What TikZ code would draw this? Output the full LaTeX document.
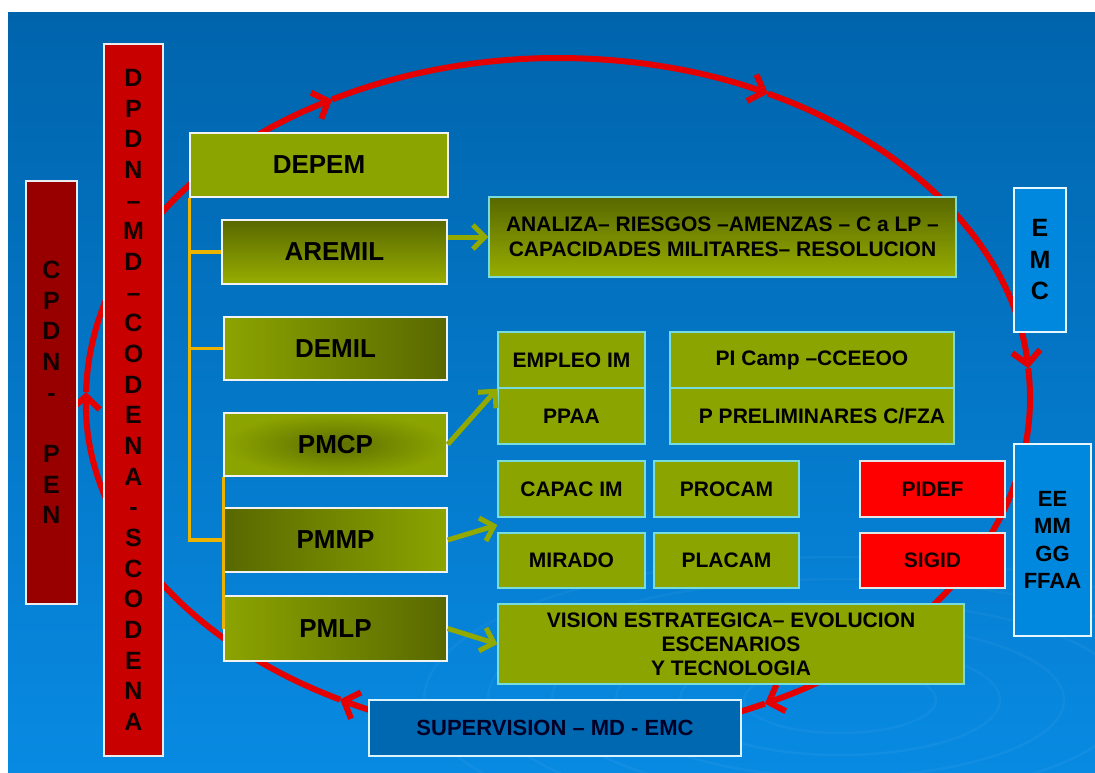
\documentclass[tikz,border=0pt]{standalone}
\usepackage{fontspec}
\setmainfont{Liberation Sans}
\usetikzlibrary{arrows.meta,calc}

\definecolor{bgtop}{RGB}{0,100,172}
\definecolor{bgbot}{RGB}{8,138,226}
\definecolor{oliv}{RGB}{140,164,0}
\definecolor{olivdark}{RGB}{88,104,0}
\definecolor{redring}{RGB}{228,0,0}
\definecolor{dpdnred}{RGB}{200,0,0}
\definecolor{cpdnred}{RGB}{152,0,0}
\definecolor{brightred}{RGB}{255,0,0}
\definecolor{lightblue}{RGB}{0,136,222}
\definecolor{supblue}{RGB}{0,104,176}
\definecolor{goldline}{RGB}{236,180,0}
\definecolor{cyanedge}{RGB}{120,220,220}
\definecolor{darktext}{RGB}{20,0,0}

\begin{document}
\begin{tikzpicture}[x=1pt,y=-1pt,
  box/.style={draw, line width=1.3pt, inner sep=0pt, align=center, text=black},
  leftbox/.style={box, draw=white!90!gray, fill=oliv, font=\bfseries\fontsize{26}{30}\selectfont},
  rightbox/.style={box, draw=cyanedge, fill=oliv, font=\bfseries\fontsize{21}{25}\selectfont},
  redbox/.style={box, draw=white!80!gray, fill=brightred, text=darktext, font=\bfseries\fontsize{21}{25}\selectfont},
  bluebox/.style={box, draw=white!90!cyan, fill=lightblue, font=\bfseries\fontsize{25}{31.5}\selectfont},
  vertbox/.style={box, draw=white!85!gray, text=darktext, font=\bfseries\fontsize{25}{30.67}\selectfont},
  ring/.style={draw=redring, line width=6pt},
  ringtip/.style={-{Straight Barb[length=13pt,width=28pt]}},
  yel/.style={draw=goldline, line width=3.5pt},
  garrow/.style={draw=oliv!95!yellow, line width=5pt, -{Straight Barb[length=12pt,width=24pt]}}
]
\useasboundingbox (0,0) rectangle (1095,772);
\fill[white] (0,0) rectangle (1095,772);
\shade[top color=bgtop, bottom color=bgbot] (8,12) rectangle (1095,772);

% faint ripples
\begin{scope}
\clip (8,12) rectangle (1095,772);
\foreach \r in {60,100,140,180,220,260}{
  \draw[white, opacity=0.04, line width=2.5pt] (840,700) ellipse [x radius=\r*1.6, y radius=\r*0.55];
}
\end{scope}

% red cycle
\draw[ring,ringtip] (558,58) arc[start angle=-90,end angle=-63.6,x radius=472,y radius=340];
\draw[ring,ringtip] (767.9,93.5) arc[start angle=-63.6,end angle=-5,x radius=472,y radius=340];
\draw[ring,ringtip] (1028.2,368.4) arc[start angle=-5,end angle=64,x radius=472,y radius=340];
\draw[ring,ringtip] (764.9,703.6) arc[start angle=64,end angle=117.5,x radius=472,y radius=340];
\draw[ring,ringtip] (340.1,699.6) arc[start angle=117.5,end angle=181,x radius=472,y radius=340];
\draw[ring,ringtip] (86.1,392.1) arc[start angle=181,end angle=241.4,x radius=472,y radius=340];
\draw[ring] (332.1,99.5) arc[start angle=241.4,end angle=270,x radius=472,y radius=340];

% vertical boxes
\node[vertbox, fill=cpdnred, minimum width=51pt, minimum height=423pt] (CPDN) at (51.5,392.5)
  {C\\P\\D\\N\\-\\\mbox{}\\P\\E\\N};
\node[vertbox, fill=dpdnred, minimum width=59pt, minimum height=712pt] (DPDN) at (133.5,400)
  {D\\P\\D\\N\\–\\M\\D\\–\\C\\O\\D\\E\\N\\A\\-\\S\\C\\O\\D\\E\\N\\A};

% left column
\node[leftbox, minimum width=258pt, minimum height=64pt] (DEPEM) at (319,165) {DEPEM};
\node[leftbox, top color=olivdark, bottom color=oliv!90!yellow, minimum width=225pt, minimum height=64pt] (AREMIL) at (334.5,252) {AREMIL};
\node[leftbox, left color=oliv, right color=olivdark, minimum width=223pt, minimum height=63pt] (DEMIL) at (335.5,348.5) {DEMIL};
\node[leftbox, shading=radial, inner color=olivdark!90!oliv, outer color=oliv, minimum width=223pt, minimum height=63pt] (PMCP) at (335.5,444.5) {PMCP};
\node[leftbox, left color=olivdark, right color=oliv, minimum width=223pt, minimum height=64pt] (PMMP) at (335.5,540) {PMMP};
\node[leftbox, left color=oliv, right color=olivdark, minimum width=223pt, minimum height=65pt] (PMLP) at (335.5,628.5) {PMLP};

% yellow bracket
\draw[yel] (DEPEM.south west) |- (PMMP.west);
\draw[yel] (DEPEM.south west |- AREMIL.west) -- (AREMIL.west);
\draw[yel] (DEPEM.south west |- DEMIL.west) -- (DEMIL.west);
\draw[yel] (PMCP.south west) -- (PMLP.west);

% right boxes
\node[rightbox, top color=olivdark, bottom color=oliv!90!yellow, minimum width=467pt, minimum height=80pt] (ANALIZA) at (722.5,237)
  {ANALIZA– RIESGOS –AMENZAS – C a LP –\\CAPACIDADES MILITARES– RESOLUCION};
\node[rightbox, minimum width=147pt, minimum height=56pt] (EMPLEO) at (571.5,360) {EMPLEO IM};
\node[rightbox, minimum width=147pt, minimum height=56pt] (PPAA) at (571.5,416) {PPAA};
\node[rightbox, minimum width=284pt, minimum height=56pt] (PICAMP) at (812,360) {PI Camp –CCEEOO};
\node[rightbox, minimum width=284pt, minimum height=56pt] (PPREL) at (812,416) {\hspace{20pt}P PRELIMINARES C/FZA};
\node[rightbox, minimum width=147pt, minimum height=56pt] (CAPAC) at (571.5,489) {CAPAC IM};
\node[rightbox, minimum width=145pt, minimum height=56pt] (PROCAM) at (726.5,489) {PROCAM};
\node[rightbox, minimum width=147pt, minimum height=55pt] (MIRADO) at (571.5,560.5) {MIRADO};
\node[rightbox, minimum width=145pt, minimum height=55pt] (PLACAM) at (726.5,560.5) {PLACAM};
\node[redbox, minimum width=145pt, minimum height=56pt] (PIDEF) at (932.5,489) {PIDEF};
\node[redbox, minimum width=145pt, minimum height=55pt] (SIGID) at (932.5,560.5) {SIGID};
\node[rightbox, minimum width=466pt, minimum height=80pt, font=\bfseries\fontsize{21}{24}\selectfont] (VISION) at (731,644)
  {VISION ESTRATEGICA– EVOLUCION\\ESCENARIOS\\Y TECNOLOGIA};

\node[box, draw=white!85!cyan, fill=supblue, text=black!85!blue, minimum width=372pt, minimum height=56pt, font=\bfseries\fontsize{22}{26}\selectfont] (SUPERV) at (555,728) {SUPERVISION – MD - EMC};

\node[bluebox, minimum width=52pt, minimum height=144pt] (EMC) at (1040,260) {E\\M\\C};
\node[bluebox, minimum width=77pt, minimum height=192pt, font=\bfseries\fontsize{22}{27.5}\selectfont] (EEMM) at (1052.5,540) {EE\\MM\\GG\\FFAA};

% green arrows
\coordinate (gap) at ($(CAPAC.south west)!0.5!(MIRADO.north west)$);
\draw[garrow] (AREMIL.east |- ANALIZA.west) -- (ANALIZA.west);
\draw[garrow] (PMCP.east) -- (EMPLEO.south west);
\draw[garrow] (PMMP.east) -- (gap);
\draw[garrow] (PMLP.east) -- (VISION.west);
\end{tikzpicture}
\end{document}
